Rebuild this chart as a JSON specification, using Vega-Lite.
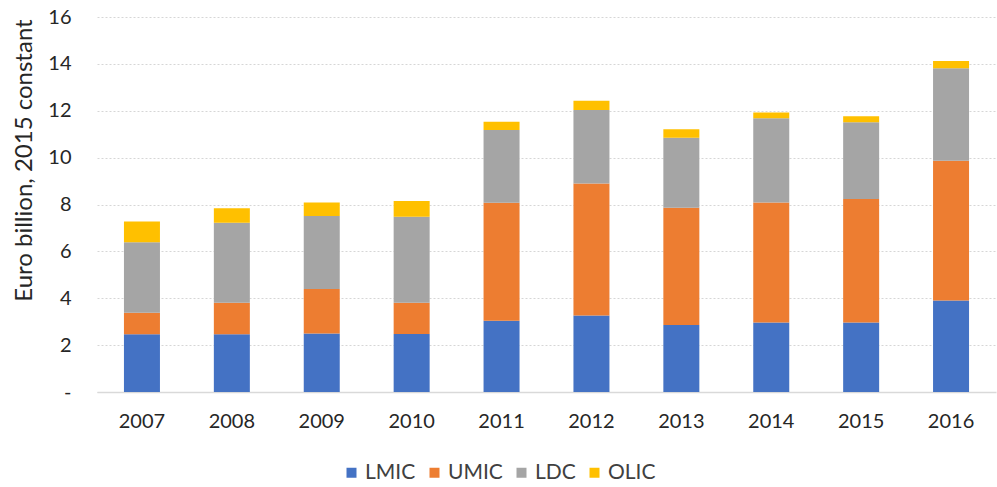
{
  "$schema": "https://vega.github.io/schema/vega-lite/v6.json",
  "width": 899,
  "height": 375,
  "autosize": "none",
  "padding": {"left": 97, "top": 17, "right": 1, "bottom": 95},
  "background": "white",
  "config": {"font": "Lato", "view": {"stroke": null}},
  "data": {"values": [
    {"year": "2007", "group": "LMIC", "ord": 1, "value": 2.46},
    {"year": "2007", "group": "UMIC", "ord": 2, "value": 0.92},
    {"year": "2007", "group": "LDC", "ord": 3, "value": 3.01},
    {"year": "2007", "group": "OLIC", "ord": 4, "value": 0.88},
    {"year": "2008", "group": "LMIC", "ord": 1, "value": 2.46},
    {"year": "2008", "group": "UMIC", "ord": 2, "value": 1.35},
    {"year": "2008", "group": "LDC", "ord": 3, "value": 3.41},
    {"year": "2008", "group": "OLIC", "ord": 4, "value": 0.62},
    {"year": "2009", "group": "LMIC", "ord": 1, "value": 2.50},
    {"year": "2009", "group": "UMIC", "ord": 2, "value": 1.89},
    {"year": "2009", "group": "LDC", "ord": 3, "value": 3.12},
    {"year": "2009", "group": "OLIC", "ord": 4, "value": 0.58},
    {"year": "2010", "group": "LMIC", "ord": 1, "value": 2.47},
    {"year": "2010", "group": "UMIC", "ord": 2, "value": 1.34},
    {"year": "2010", "group": "LDC", "ord": 3, "value": 3.67},
    {"year": "2010", "group": "OLIC", "ord": 4, "value": 0.67},
    {"year": "2011", "group": "LMIC", "ord": 1, "value": 3.04},
    {"year": "2011", "group": "UMIC", "ord": 2, "value": 5.04},
    {"year": "2011", "group": "LDC", "ord": 3, "value": 3.10},
    {"year": "2011", "group": "OLIC", "ord": 4, "value": 0.35},
    {"year": "2012", "group": "LMIC", "ord": 1, "value": 3.26},
    {"year": "2012", "group": "UMIC", "ord": 2, "value": 5.64},
    {"year": "2012", "group": "LDC", "ord": 3, "value": 3.13},
    {"year": "2012", "group": "OLIC", "ord": 4, "value": 0.40},
    {"year": "2013", "group": "LMIC", "ord": 1, "value": 2.86},
    {"year": "2013", "group": "UMIC", "ord": 2, "value": 5.00},
    {"year": "2013", "group": "LDC", "ord": 3, "value": 2.99},
    {"year": "2013", "group": "OLIC", "ord": 4, "value": 0.36},
    {"year": "2014", "group": "LMIC", "ord": 1, "value": 2.97},
    {"year": "2014", "group": "UMIC", "ord": 2, "value": 5.12},
    {"year": "2014", "group": "LDC", "ord": 3, "value": 3.59},
    {"year": "2014", "group": "OLIC", "ord": 4, "value": 0.25},
    {"year": "2015", "group": "LMIC", "ord": 1, "value": 2.97},
    {"year": "2015", "group": "UMIC", "ord": 2, "value": 5.26},
    {"year": "2015", "group": "LDC", "ord": 3, "value": 3.28},
    {"year": "2015", "group": "OLIC", "ord": 4, "value": 0.26},
    {"year": "2016", "group": "LMIC", "ord": 1, "value": 3.90},
    {"year": "2016", "group": "UMIC", "ord": 2, "value": 5.97},
    {"year": "2016", "group": "LDC", "ord": 3, "value": 3.94},
    {"year": "2016", "group": "OLIC", "ord": 4, "value": 0.31}
  ]},
  "mark": {"type": "bar", "size": 36},
  "encoding": {
    "x": {
      "field": "year", "type": "ordinal",
      "scale": {"paddingInner": 0, "paddingOuter": 0},
      "axis": {
        "title": null, "labelAngle": 0, "ticks": false,
        "domain": true, "domainColor": "#d9d9d9", "domainWidth": 1.5,
        "labelFontSize": 20, "labelColor": "#262626", "labelPadding": 19,
        "grid": false
      }
    },
    "y": {
      "field": "value", "type": "quantitative", "stack": "zero",
      "scale": {"domain": [0, 16], "nice": false},
      "axis": {
        "title": "Euro billion, 2015 constant",
        "titleFontSize": 24, "titleFontWeight": "normal", "titleColor": "#262626",
        "titleAngle": 270, "titleX": -73, "titleY": 143, "titleAlign": "center", "titleBaseline": "middle",
        "values": [0, 2, 4, 6, 8, 10, 12, 14, 16],
        "labelExpr": "datum.value == 0 ? '-\u00a0\u00a0' : datum.label",
        "labelFontSize": 20, "labelColor": "#262626", "labelPadding": 26,
        "ticks": false, "domain": false,
        "grid": true, "gridColor": "#d6d6d6", "gridDash": [2, 2], "gridWidth": 1
      }
    },
    "color": {
      "field": "group", "type": "nominal",
      "scale": {"domain": ["LMIC", "UMIC", "LDC", "OLIC"], "range": ["#4472C4", "#ED7D31", "#A5A5A5", "#FFC000"]},
      "legend": {
        "title": null, "orient": "none", "direction": "horizontal",
        "legendX": 244, "legendY": 445,
        "symbolType": "square", "symbolSize": 100, "symbolStrokeWidth": 0,
        "labelFontSize": 21, "labelColor": "#404040", "labelOffset": 3,
        "columnPadding": 8
      }
    },
    "order": {"field": "ord", "type": "quantitative"}
  }
}
